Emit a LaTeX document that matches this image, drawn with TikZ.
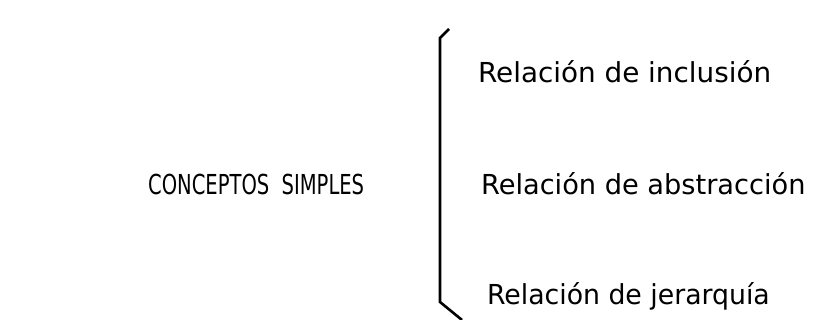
\documentclass[tikz,border=0pt]{standalone}
\usepackage{fontspec}
\setmainfont{DejaVu Sans Condensed}
\begin{document}
\begin{tikzpicture}[x=1pt,y=-1pt,
  lbl/.style={inner sep=0pt,anchor=west,font=\fontsize{27.5}{31}\selectfont}]
\useasboundingbox (0,0) rectangle (826,320);
\node[lbl] (c) at (148,184) {\scalebox{0.79}[1]{CONCEPTOS\ \ SIMPLES}};
\node[lbl] (r1) at (478,72) {\scalebox{1.125}[1]{Relación de inclusión}};
\node[lbl] (r2) at (481,184) {\scalebox{1.10}[1]{Relación de abstracción}};
\node[lbl] (r3) at (487,296) {\scalebox{1.08}[1]{Relación de jerarquía}};
\coordinate (t) at (449,29);
\coordinate (b) at (462,320);
\draw[line width=2.6pt] (t) -- (440,38) -- (440,302) -- (b);
\end{tikzpicture}
\end{document}
